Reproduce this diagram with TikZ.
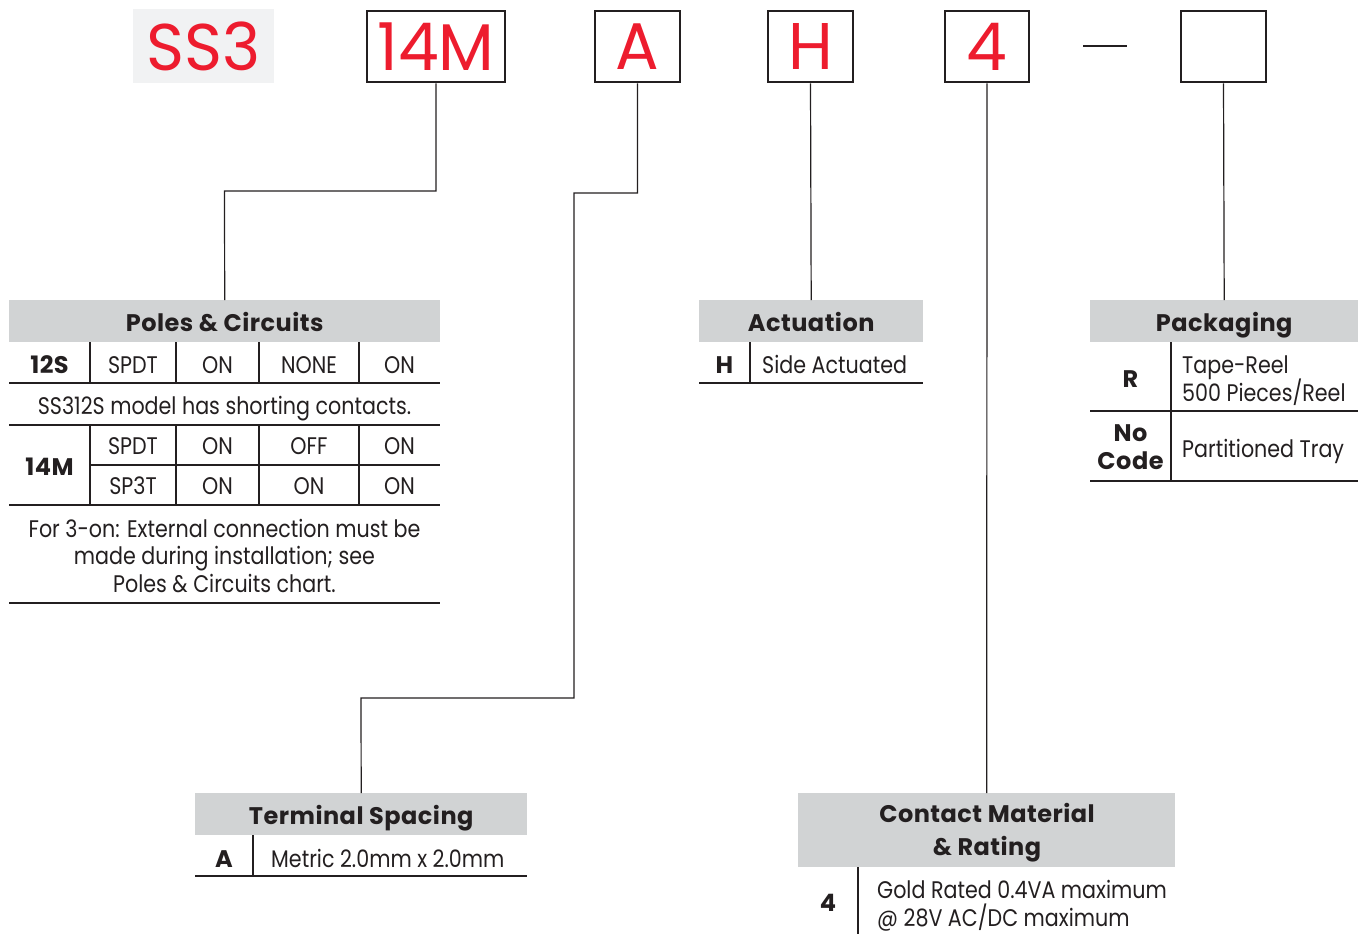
\documentclass[tikz,border=0pt]{standalone}
\usepackage{fontspec}
\setmainfont{Poppins}[FakeStretch=0.86,BoldFeatures={FakeStretch=1.0,LetterSpace=2}]
\newfontfamily\codefont{Poppins}[FakeStretch=0.98]
\usetikzlibrary{positioning}
\definecolor{codered}{RGB}{237,28,46}
\definecolor{headgray}{RGB}{209,211,212}
\definecolor{codegray}{RGB}{241,242,243}
\definecolor{inkgray}{RGB}{35,31,32}

\begin{document}
\begin{tikzpicture}[x=1pt,y=-1pt,
  codebox/.style={rectangle,draw=inkgray,line width=2.6pt,minimum height=71pt,inner sep=0pt,text=codered,font=\codefont\fontsize{66}{66}\selectfont},
  headbox/.style={rectangle,fill=headgray,anchor=north west,inner sep=0pt,text=inkgray,text height=20pt,text depth=0pt,font=\bfseries\fontsize{24}{28}\selectfont},
  celltxt/.style={inner sep=0pt,text=inkgray,anchor=base,font=\fontsize{24}{28}\selectfont},
  cellcode/.style={celltxt,font=\bfseries\fontsize{24}{28}\selectfont},
  rule/.style={draw=inkgray,line width=1.3pt},
  wire/.style={draw=inkgray,line width=1.2pt}]
\useasboundingbox (0,0) rectangle (1364,934);

% part number
\node [rectangle,fill=codegray,minimum width=141pt,minimum height=74pt,inner sep=0pt,text=codered,font=\codefont\fontsize{66}{66}\selectfont,at={(203.5,46)}] (css3) {SS3};
\node [codebox,minimum width=138pt,at={(436,46.5)}] (c14m) {14M};
\node [codebox,minimum width=85pt,at={(637.5,46.5)}] (ca) {A};
\node [codebox,minimum width=85pt,at={(810.5,46.5)}] (ch) {H};
\node [codebox,minimum width=84pt,at={(987,46.5)}] (c4) {4};
\node [codebox,minimum width=85pt,at={(1223.5,46.5)}] (cpack) {};
\draw [inkgray,line width=2.5pt] (1083,46) -- (1127,46);

% headers
\node [headbox,minimum width=431pt,minimum height=42pt,at={(9,300)}] (poles) {Poles \& Circuits};
\node [headbox,minimum width=224pt,minimum height=42pt,at={(699,300)}] (actu) {Actuation};
\node [headbox,minimum width=268pt,minimum height=42pt,at={(1090,300)}] (pack) {Packaging};
\node [headbox,minimum width=332pt,minimum height=42pt,at={(195,793)}] (term) {Terminal Spacing};
\node [rectangle,fill=headgray,anchor=north west,inner sep=0pt,minimum width=377pt,minimum height=74pt,at={(798,793)}] (contact) {};
\node [celltxt,font=\bfseries\fontsize{24}{33}\selectfont,align=center,anchor=center,at={(987,833)}] (contacttxt) {Contact Material\\\& Rating};

% connectors
\coordinate (bend14m) at (224.5,191);
\coordinate (benda1) at (574,193);
\coordinate (benda2) at (361,698);
\draw [wire] (c14m.south) |- (bend14m) -- (poles.north);
\draw [wire] (ca.south) |- (benda1) |- (benda2) -- (term.north);
\draw [wire] (ch.south) -- (actu.north);
\draw [wire] (c4.south) -- (contact.north);
\draw [wire] (cpack.south) -- (pack.north);

% poles & circuits table
\node [cellcode,at={(49.5,373)}] (p12s) {12S};
\node [celltxt,at={(133,373)}] (p12sa) {SPDT};
\node [celltxt,at={(217.5,373)}] (p12sb) {ON};
\node [celltxt,at={(309,373)}] (p12sc) {NONE};
\node [celltxt,at={(399.5,373)}] (p12sd) {ON};
\node [celltxt,at={(224.5,414)}] (pnote1) {SS312S model has shorting contacts.};
\node [cellcode,at={(49.5,475)}] (p14m) {14M};
\node [celltxt,at={(133,454)}] (p14ma) {SPDT};
\node [celltxt,at={(217.5,454)}] (p14mb) {ON};
\node [celltxt,at={(309,454)}] (p14mc) {OFF};
\node [celltxt,at={(399.5,454)}] (p14md) {ON};
\node [celltxt,at={(133,494)}] (p14me) {SP3T};
\node [celltxt,at={(217.5,494)}] (p14mf) {ON};
\node [celltxt,at={(309,494)}] (p14mg) {ON};
\node [celltxt,at={(399.5,494)}] (p14mh) {ON};
\node [celltxt,at={(224.5,537)}] (pnote2) {For 3-on: External connection must be};
\node [celltxt,at={(224.5,564)}] (pnote3) {made during installation; see};
\node [celltxt,at={(224.5,592)}] (pnote4) {Poles \& Circuits chart.};
\draw [rule] (9,383) -- (440,383) (9,425) -- (440,425) (90,465) -- (440,465)
  (9,505) -- (440,505) (9,603) -- (440,603);
\draw [rule] (90,342) -- (90,383) (176,342) -- (176,383) (259,342) -- (259,383) (359,342) -- (359,383);
\draw [rule] (90,425) -- (90,505) (176,425) -- (176,505) (259,425) -- (259,505) (359,425) -- (359,505);

% actuation table
\node [cellcode,at={(724.5,373)}] (ah) {H};
\node [celltxt,anchor=base west,at={(762,373)}] (aside) {Side Actuated};
\draw [rule] (699,383) -- (923,383) (750,342) -- (750,383);

% packaging table
\node [cellcode,at={(1130.5,387)}] (kr) {R};
\node [celltxt,anchor=base west,at={(1182,373)}] (kreel1) {Tape-Reel};
\node [celltxt,anchor=base west,at={(1182,401)}] (kreel2) {500 Pieces/Reel};
\node [cellcode,at={(1130.5,441)}] (kno1) {No};
\node [cellcode,at={(1130.5,469)}] (kno2) {Code};
\node [celltxt,anchor=base west,at={(1182,457)}] (ktray) {Partitioned Tray};
\draw [rule] (1090,411) -- (1358,411) (1090,481) -- (1358,481) (1171,342) -- (1171,481);

% terminal spacing table
\node [cellcode,at={(224,867)}] (ta) {A};
\node [celltxt,anchor=base west,at={(271,867)}] (tmetric) {Metric 2.0mm x 2.0mm};
\draw [rule] (195,876) -- (527,876) (253,835) -- (253,876);

% contact table
\node [cellcode,at={(828,911)}] (c4code) {4};
\node [celltxt,anchor=base west,at={(877,898)}] (cgold1) {Gold Rated 0.4VA maximum};
\node [celltxt,anchor=base west,at={(877,926)}] (cgold2) {@ 28V AC/DC maximum};
\draw [rule] (858,867) -- (858,934);
\end{tikzpicture}
\end{document}
